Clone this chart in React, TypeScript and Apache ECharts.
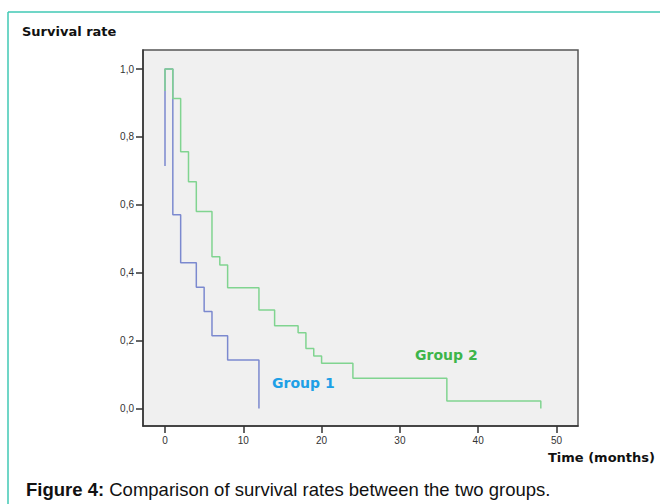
import React, { useEffect, useRef } from "react";
import * as echarts from "echarts";

const group1Times = [0, 0, 1, 2, 4, 5, 6, 8, 12];
const group1Survival = [0.714, 1, 0.571, 0.429, 0.357, 0.286, 0.214, 0.143, 0];
const group2Times = [0, 0, 1, 2, 3, 4, 6, 7, 8, 12, 14, 17, 18, 19, 20, 24, 36, 48];
const group2Survival = [0.935, 1, 0.913, 0.756, 0.668, 0.58, 0.447, 0.423, 0.356, 0.29, 0.244, 0.223, 0.177, 0.155, 0.133, 0.089, 0.022, 0];
const xTicks = [0, 10, 20, 30, 40, 50];
const yTicks = [0, 0.2, 0.4, 0.6, 0.8, 1.0];

export default function App() {
  const ref = useRef<HTMLDivElement>(null);
  useEffect(() => {
    if (!ref.current) return;
    const chart = echarts.init(ref.current, null, { renderer: "svg" });
    const g1 = group1Times.map((t, i) => [t, group1Survival[i]]);
    const g2 = group2Times.map((t, i) => [t, group2Survival[i]]);
    chart.setOption({
      animation: false,
      backgroundColor: "#ffffff",
      grid: {
        left: 143,
        top: 50,
        width: 435,
        height: 376,
        show: true,
        backgroundColor: "#f0f0f0",
        borderColor: "#555555",
        borderWidth: 1.5,
        containLabel: false,
      },
      xAxis: {
        type: "value",
        min: -2.81,
        max: 52.75,
        splitLine: { show: false },
        axisLine: { show: true, onZero: false, lineStyle: { color: "#333", width: 1.5 } },
        axisTick: { show: true, inside: false, customValues: xTicks, length: 7, lineStyle: { color: "#333", width: 1.5 } },
        axisLabel: {
          customValues: xTicks,
          color: "#333",
          fontSize: 10,
          fontFamily: "Liberation Sans, Arial",
          margin: 9,
        },
      },
      yAxis: {
        type: "value",
        min: -0.0515,
        max: 1.056,
        splitLine: { show: false },
        axisLine: { show: true, onZero: false, lineStyle: { color: "#333", width: 1.5 } },
        axisTick: { show: true, inside: false, customValues: yTicks, length: 7, lineStyle: { color: "#333", width: 1.5 } },
        axisLabel: {
          customValues: yTicks,
          color: "#333",
          fontSize: 10,
          fontFamily: "Liberation Sans, Arial",
          margin: 9,
          formatter: (v: number) => v.toFixed(1).replace(".", ","),
        },
      },
      series: [
        {
          type: "line",
          name: "Group 1",
          data: g1,
          step: "end",
          symbol: "none",
          lineStyle: { color: "#7b89cf", width: 1.5 },
          z: 2,
        },
        {
          type: "line",
          name: "Group 2",
          data: g2,
          step: "end",
          symbol: "none",
          lineStyle: { color: "#80d490", width: 1.5 },
          z: 3,
        },
      ],
      graphic: [
        { type: "line", shape: { x1: 8, y1: 12, x2: 660, y2: 12 }, style: { stroke: "#40c9b4", lineWidth: 1.5 } },
        { type: "line", shape: { x1: 8, y1: 12, x2: 8, y2: 504 }, style: { stroke: "#40c9b4", lineWidth: 1.5 } },
        {
          type: "text",
          left: 22,
          top: 25,
          style: { text: "Survival rate", font: "bold 13px 'DejaVu Sans', sans-serif", fill: "#111" },
        },
        {
          type: "text",
          right: 5,
          top: 451,
          style: { text: "Time (months)", font: "bold 13px 'DejaVu Sans', sans-serif", fill: "#111" },
        },
        {
          type: "text",
          left: 272,
          top: 376,
          z: 10,
          style: { text: "Group 1", font: "bold 14px 'DejaVu Sans', sans-serif", fill: "#1ea0e6" },
        },
        {
          type: "text",
          left: 415,
          top: 348,
          z: 10,
          style: { text: "Group 2", font: "bold 14px 'DejaVu Sans', sans-serif", fill: "#3db54a" },
        },
        {
          type: "text",
          left: 26,
          top: 480,
          style: {
            rich: {
              b: { font: "bold 18.5px 'Liberation Sans', Arial", fill: "#111" },
              n: { font: "18.5px 'Liberation Sans', Arial", fill: "#111" },
            },
            text: "{b|Figure 4:}{n| Comparison of survival rates between the two groups.}",
          },
        },
      ],
    });
    return () => chart.dispose();
  }, []);
  return (
    <div
      ref={ref}
      style={{ position: "fixed", left: 0, top: 0, width: 660, height: 504 }}
    />
  );
}
